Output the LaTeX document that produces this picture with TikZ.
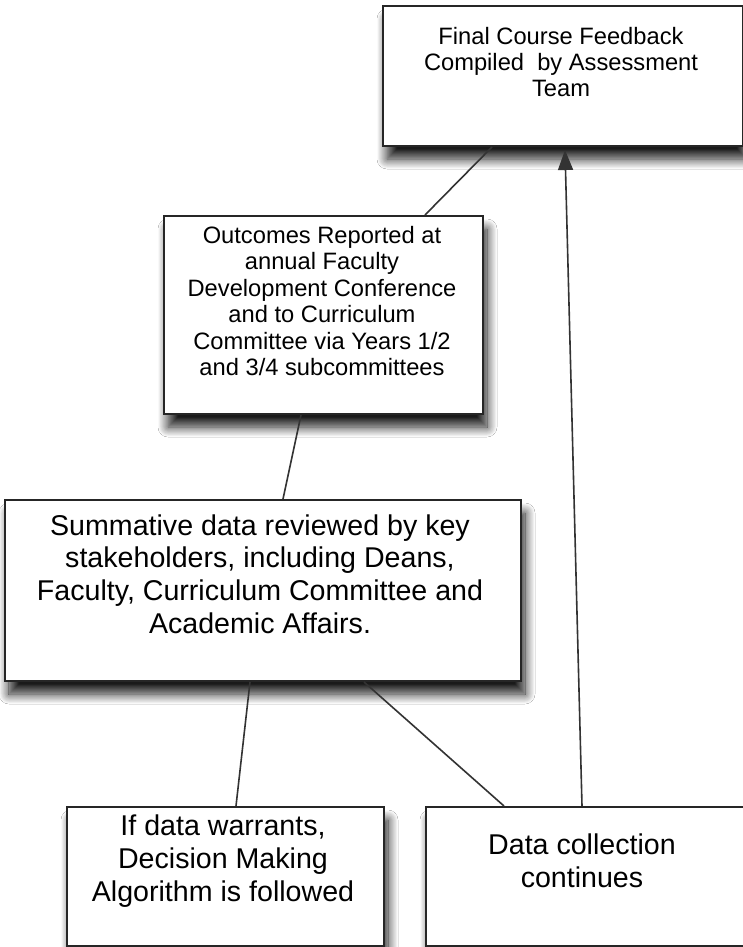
\documentclass[tikz,border=0pt]{standalone}
\usepackage{fontspec}
\setmainfont{Liberation Sans}
\usetikzlibrary{shadows.blur,arrows.meta}
\begin{document}
\begin{tikzpicture}[x=1pt,y=-1pt,
  box/.style={draw=black!85,line width=2pt,fill=white,rectangle,inner sep=0pt,anchor=north west,
    blur shadow={shadow xshift=4pt,shadow yshift=-13pt,shadow blur radius=10pt,shadow blur steps=14,shadow opacity=90}},
  smalltxt/.style={align=center,inner sep=0pt,font=\fontsize{23.7}{26.4}\selectfont},
  bigtxt/.style={align=center,inner sep=0pt,font=\fontsize{28.6}{32.6}\selectfont},
  link/.style={draw=black!80,line width=1.6pt}]
\useasboundingbox[fill=white] (0,0) rectangle (743,947);
% boxes
\node[box,minimum width=360pt,minimum height=140pt] (top) at (382,5) {};
\node[box,minimum width=319pt,minimum height=198pt] (mid) at (163,215) {};
\node[box,minimum width=516pt,minimum height=181pt] (summ) at (4,499) {};
\node[box,minimum width=317pt,minimum height=139pt] (bl) at (66,806) {};
\node[box,minimum width=322pt,minimum height=139pt] (br) at (425,806) {};
% texts
\node[smalltxt] (toptxt) at (561,62) {Final Course Feedback\\Compiled\ \ by Assessment\\Team};
\node[smalltxt] (midtxt) at (322,301) {Outcomes Reported at\\annual Faculty\\Development Conference\\and to Curriculum\\Committee via Years 1/2\\and 3/4 subcommittees};
\node[bigtxt] (summtxt) at (260,574) {Summative data reviewed by key\\stakeholders, including Deans,\\Faculty, Curriculum Committee and\\Academic Affairs.};
\node[bigtxt] (bltxt) at (223,861) {If data warrants,\\Decision Making\\Algorithm is followed};
\node[bigtxt] (brtxt) at (582,861) {Data collection\\continues};
% connectors
\draw[link] ([xshift=110pt]top.south west) -- ([xshift=262pt]mid.north west);
\draw[link] ([xshift=138pt]mid.south west) -- ([xshift=279pt]summ.north west);
\draw[link] ([xshift=246pt]summ.south west) -- ([xshift=170pt]bl.north west);
\draw[link] ([xshift=360pt]summ.south west) -- ([xshift=79pt]br.north west);
\draw[link,-{Triangle[length=20pt,width=15pt]}] ([xshift=157pt]br.north west) -- ([xshift=183pt,yshift=-3pt]top.south west);
\end{tikzpicture}
\end{document}
